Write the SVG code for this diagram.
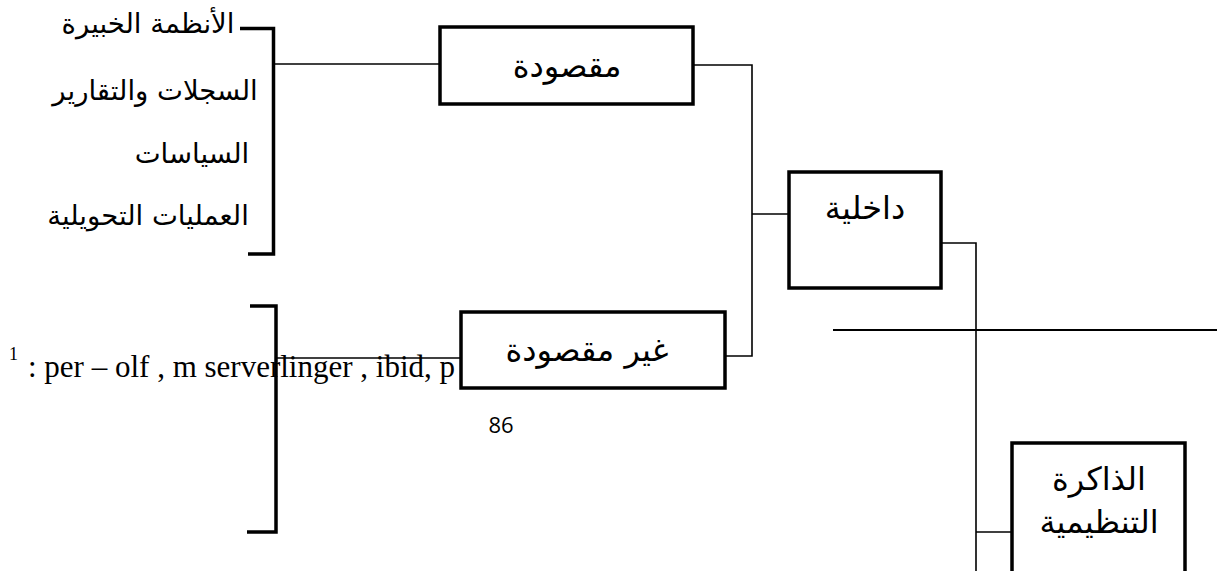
<svg xmlns="http://www.w3.org/2000/svg" width="1217" height="571" viewBox="0 0 1217 571">
  <style>
    .box { fill: #fff; stroke: #000; stroke-width: 3.5; }
    .wire { fill: none; stroke: #000; stroke-width: 1.6; }
    .brace { fill: none; stroke: #000; stroke-width: 3.5; }
    .lbl { font-family: "DejaVu Sans", "Noto Sans", sans-serif; font-size: 32px; fill: #000; text-anchor: middle; }
    .list { font-family: "DejaVu Serif", "DejaVu Sans", serif; font-size: 27.5px; fill: #000; text-anchor: middle; }
    .note { font-family: "Liberation Serif", serif; font-size: 31px; fill: #000; }
    .sup { font-family: "Liberation Serif", serif; font-size: 18px; fill: #000; }
    .page { font-family: "Open Sans", "Noto Sans", sans-serif; font-size: 22px; fill: #000; text-anchor: middle; }
  </style>

  <rect width="1217" height="571" fill="#fff"/>

  <!-- footnote text sitting underneath the drawing -->
  <g id="footnote">
    <text class="sup" x="9" y="360">1</text>
    <text class="note" x="28" y="377">: per – olf , m serverlinger , ibid, p</text>
    <text class="page" x="501" y="433">86</text>
  </g>

  <!-- connectors -->
  <g id="connectors">
    <!-- brackets grouping the list items -->
    <polyline class="brace" points="240,28.5 273.5,28.5 273.5,254 248,254"/>
    <polyline class="brace" points="250,306 276,306 276,532 247,532"/>
    <line class="wire" x1="273" y1="64" x2="440" y2="64"/>
    <line class="wire" x1="276" y1="358" x2="461" y2="358"/>
    <!-- intentional / unintentional join into internal -->
    <polyline class="wire" points="693,65 752,65 752,356 725,356"/>
    <line class="wire" x1="752" y1="214" x2="789" y2="214"/>
    <!-- internal to organisational memory -->
    <polyline class="wire" points="941,243 976,243 976,571"/>
    <line class="wire" x1="976" y1="532" x2="1012" y2="532"/>
    <line x1="833" y1="330" x2="1217" y2="330" stroke="#000" stroke-width="2.2"/>
  </g>

  <!-- list of intentional sources -->
  <g id="list-intentional">
    <text class="list" x="148" y="33" direction="rtl">الأنظمة الخبيرة</text>
    <text class="list" x="155" y="100" direction="rtl">السجلات والتقارير</text>
    <text class="list" x="192" y="163" direction="rtl">السياسات</text>
    <text class="list" x="148" y="225" direction="rtl">العمليات التحويلية</text>
  </g>

  <g id="node-intentional">
    <rect class="box" x="440" y="27" width="253" height="77"/>
    <text class="lbl" x="567" y="77" direction="rtl">مقصودة</text>
  </g>

  <g id="node-unintentional">
    <rect class="box" x="461" y="312" width="264" height="76"/>
    <text class="lbl" x="587" y="361" direction="rtl">غير مقصودة</text>
  </g>

  <g id="node-internal">
    <rect class="box" x="789" y="172" width="152" height="116"/>
    <text class="lbl" x="865" y="219" direction="rtl">داخلية</text>
  </g>

  <g id="node-memory">
    <rect class="box" x="1012" y="443" width="173" height="140"/>
    <text class="lbl" x="1099" y="490" direction="rtl">الذاكرة</text>
    <text class="lbl" x="1099" y="533" direction="rtl">التنظيمية</text>
  </g>
</svg>
